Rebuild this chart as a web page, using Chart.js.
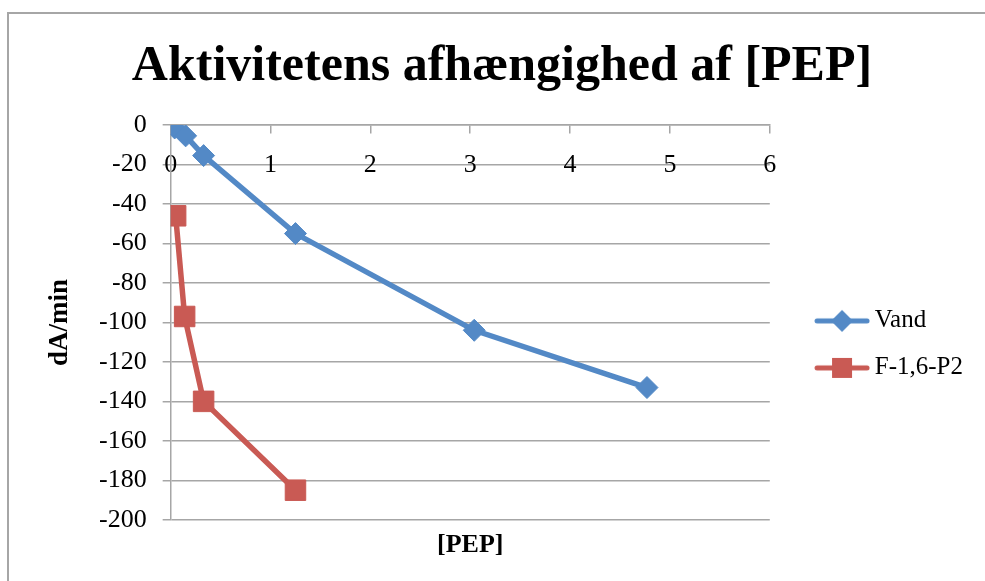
<!DOCTYPE html>
<html>
<head>
<meta charset="utf-8">
<script src="https://cdn.jsdelivr.net/npm/chart.js@4/dist/chart.umd.min.js"></script>
<style>
    html, body { margin: 0; padding: 0; background: #fff; overflow: hidden; }
    #wrap { position: relative; width: 985px; height: 581px; }
    #frame { position: absolute; left: 7px; top: 12px; width: 1200px; height: 1000px;
             border-left: 2px solid #a6a6a6; border-top: 2px solid #a6a6a6; }
    #chart { position: absolute; left: 0; top: 0; }
</style>
</head>
<body>
<div id="wrap">
    <div id="frame"></div>
    <canvas id="chart" width="985" height="581"></canvas>
</div>
<script>
// Data
const vandX = [0.04, 0.15, 0.33, 1.25, 3.04, 4.77];
const vandY = [-1.5, -5.5, -15.5, -55, -104, -133];
const f16X = [0.05, 0.14, 0.33, 1.25];
const f16Y = [-46, -97, -140, -185];
const seriesNames = ['Vand', 'F-1,6-P2'];
const xTicks = [0, 1, 2, 3, 4, 5, 6];
const yTicks = [0, -20, -40, -60, -80, -100, -120, -140, -160, -180, -200];

const BLUE = '#5389c6';
const RED = '#c95a54';
const GRID = '#a6a6a6';

Chart.defaults.font.family = "'Liberation Serif', 'DejaVu Serif', serif";
Chart.defaults.color = '#000';

// legend icon: line with marker in the middle (like Excel)
// the visible part sits in the right of the canvas so it lands clear of the plot
function legendIcon(color, shape) {
    const c = document.createElement('canvas');
    c.width = 86;
    c.height = 24;
    const g = c.getContext('2d');
    g.strokeStyle = color;
    g.fillStyle = color;
    g.lineWidth = 5;
    g.lineCap = 'round';
    g.beginPath();
    g.moveTo(33, 12);
    g.lineTo(83, 12);
    g.stroke();
    g.beginPath();
    if (shape === 'diamond') {
        g.moveTo(58, 1); g.lineTo(69, 12); g.lineTo(58, 23); g.lineTo(47, 12);
    } else {
        g.rect(48, 2, 20, 20);
    }
    g.closePath();
    g.fill();
    return c;
}
const icons = [legendIcon(BLUE, 'diamond'), legendIcon(RED, 'square')];

const toPoints = (xs, ys) => xs.map((x, i) => ({ x: x, y: ys[i] }));

new Chart(document.getElementById('chart'), {
    type: 'line',
    data: {
        datasets: [{
            label: seriesNames[0],
            data: toPoints(vandX, vandY),
            borderColor: BLUE,
            backgroundColor: BLUE,
            borderWidth: 5.5,
            pointStyle: 'rectRot',
            pointRadius: 11,
            pointBorderWidth: 1,
            tension: 0
        }, {
            label: seriesNames[1],
            data: toPoints(f16X, f16Y),
            borderColor: RED,
            backgroundColor: RED,
            borderWidth: 5.5,
            pointStyle: 'rect',
            pointRadius: 14.5,
            pointBorderWidth: 1,
            tension: 0
        }]
    },
    options: {
        responsive: false,
        animation: false,
        devicePixelRatio: 1,
        layout: { padding: { left: 31, right: 12, top: 0, bottom: 0 } },
        plugins: {
            title: {
                display: true,
                text: 'Aktivitetens afhængighed af [PEP]',
                font: { size: 50, weight: 'bold' },
                color: '#000',
                padding: { top: 37, bottom: 28 }
            },
            legend: {
                position: 'right',
                fullSize: false,
                title: { display: true, text: ' ', font: { size: 10 }, padding: { top: 32, bottom: 0 } },
                labels: {
                    usePointStyle: true,
                    pointStyleWidth: 70.5,
                    padding: 22,
                    font: { size: 25 },
                    color: '#000',
                    generateLabels: chart => chart.data.datasets.map((ds, i) => ({
                        text: ds.label,
                        pointStyle: icons[i],
                        fillStyle: ds.borderColor,
                        strokeStyle: ds.borderColor,
                        lineWidth: 0,
                        hidden: false,
                        datasetIndex: i
                    }))
                }
            },
            tooltip: { enabled: false }
        },
        scales: {
            x: {
                type: 'linear',
                position: { y: 0 },
                min: xTicks[0],
                max: xTicks[xTicks.length - 1],
                afterBuildTicks: s => { s.ticks = xTicks.map(v => ({ value: v })); },
                grid: { drawOnChartArea: false, drawTicks: true, tickLength: 8, color: GRID, lineWidth: 1.5 },
                border: { display: true, color: GRID, width: 1.5 },
                ticks: { font: { size: 26 }, color: '#000', padding: 17, maxRotation: 0 }
            },
            x2: {
                type: 'linear',
                position: 'bottom',
                grid: { display: false, drawTicks: false },
                border: { display: false },
                ticks: { display: false },
                title: {
                    display: true,
                    text: '[PEP]',
                    font: { size: 26, weight: 'bold' },
                    color: '#000',
                    padding: { top: 10, bottom: 20 }
                }
            },
            y: {
                type: 'linear',
                position: 'left',
                min: yTicks[yTicks.length - 1],
                max: yTicks[0],
                afterBuildTicks: s => { s.ticks = yTicks.map(v => ({ value: v })); },
                grid: { color: GRID, lineWidth: 1.5, tickLength: 8 },
                border: { display: true, color: GRID, width: 1.5 },
                ticks: { font: { size: 26 }, color: '#000', padding: 16 },
                title: {
                    display: true,
                    text: 'dA/min',
                    font: { size: 27, weight: 'bold' },
                    color: '#000',
                    padding: { top: 12.8, bottom: 6.8 }
                }
            }
        }
    }
});
</script>
</body>
</html>
